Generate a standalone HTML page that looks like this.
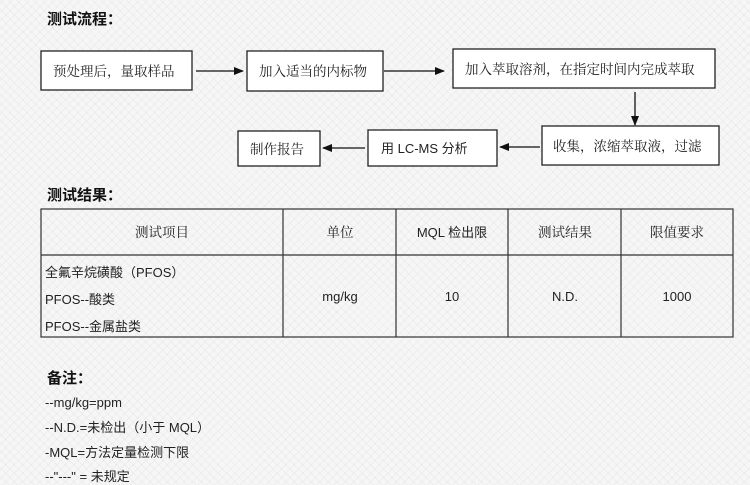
<!DOCTYPE html>
<html><head><meta charset="utf-8"><style>
html,body{margin:0;padding:0;}
body{width:750px;height:485px;overflow:hidden;background:#f6f6f6;
background-image:repeating-linear-gradient(45deg,rgba(0,0,0,0.03) 0 1px,transparent 1px 6px),repeating-linear-gradient(-45deg,rgba(0,0,0,0.03) 0 1px,transparent 1px 6px);}
svg{position:absolute;left:0;top:0;}
text{font-family:"Liberation Sans","Noto Sans CJK SC",sans-serif;fill:#222;font-size:13px;}
.b{font-weight:bold;font-size:15px;fill:#111;}
.s{font-family:"Liberation Serif","Noto Serif CJK SC","Noto Sans CJK SC",serif;font-size:13.5px;}
</style></head><body>
<svg width="750" height="485" viewBox="0 0 750 485">
<defs><marker id="a" markerWidth="10" markerHeight="8" refX="9" refY="4" orient="auto" markerUnits="userSpaceOnUse"><path d="M0,0L10,4L0,8z" fill="#111"/></marker></defs>
<text x="47" y="24" class="b">测试流程：</text>
<g fill="#fff" stroke="#222" stroke-width="1.3">
<rect x="41" y="51" width="151" height="39"/>
<rect x="247" y="51" width="136" height="40"/>
<rect x="453" y="49" width="262" height="39"/>
<rect x="542" y="126" width="177" height="39"/>
<rect x="368" y="130" width="129" height="36"/>
<rect x="238" y="131" width="82" height="35"/>
</g>
<g stroke="#111" stroke-width="1.3" marker-end="url(#a)">
<line x1="196" y1="71" x2="243" y2="71"/>
<line x1="384" y1="71" x2="444" y2="71"/>
<line x1="635" y1="92" x2="635" y2="125"/>
<line x1="540" y1="147" x2="500" y2="147"/>
<line x1="365" y1="148" x2="323" y2="148"/>
</g>
<text x="53" y="76" class="s">预处理后，量取样品</text>
<text x="259" y="76" class="s">加入适当的内标物</text>
<text x="465" y="74" class="s">加入萃取溶剂，在指定时间内完成萃取</text>
<text x="553" y="151" class="s">收集，浓缩萃取液，过滤</text>
<text x="381" y="153">用 LC-MS 分析</text>
<text x="250" y="154" class="s">制作报告</text>

<text x="47" y="200" class="b">测试结果：</text>
<g fill="none" stroke="#333" stroke-width="1.2">
<rect x="41" y="209" width="692" height="128"/>
<line x1="41" y1="255" x2="733" y2="255"/>
<line x1="283" y1="209" x2="283" y2="337"/>
<line x1="396" y1="209" x2="396" y2="337"/>
<line x1="508" y1="209" x2="508" y2="337"/>
<line x1="621" y1="209" x2="621" y2="337"/>
</g>
<g text-anchor="middle">
<text x="162" y="237" class="s">测试项目</text>
<text x="340" y="237" class="s">单位</text>
<text x="452" y="237">MQL 检出限</text>
<text x="565" y="237" class="s">测试结果</text>
<text x="677" y="237" class="s">限值要求</text>
<text x="340" y="301">mg/kg</text>
<text x="452" y="301">10</text>
<text x="565" y="301">N.D.</text>
<text x="677" y="301">1000</text>
</g>
<text x="45" y="277" font-size="14">全氟辛烷磺酸（PFOS）</text>
<text x="45" y="304" font-size="14">PFOS--酸类</text>
<text x="45" y="331" font-size="14">PFOS--金属盐类</text>

<text x="47" y="383" class="b">备注：</text>
<text x="45" y="407">--mg/kg=ppm</text>
<text x="45" y="432">--N.D.=未检出（小于 MQL）</text>
<text x="45" y="457">-MQL=方法定量检测下限</text>
<text x="45" y="481">--"---" =  未规定</text>
</svg>
</body></html>
